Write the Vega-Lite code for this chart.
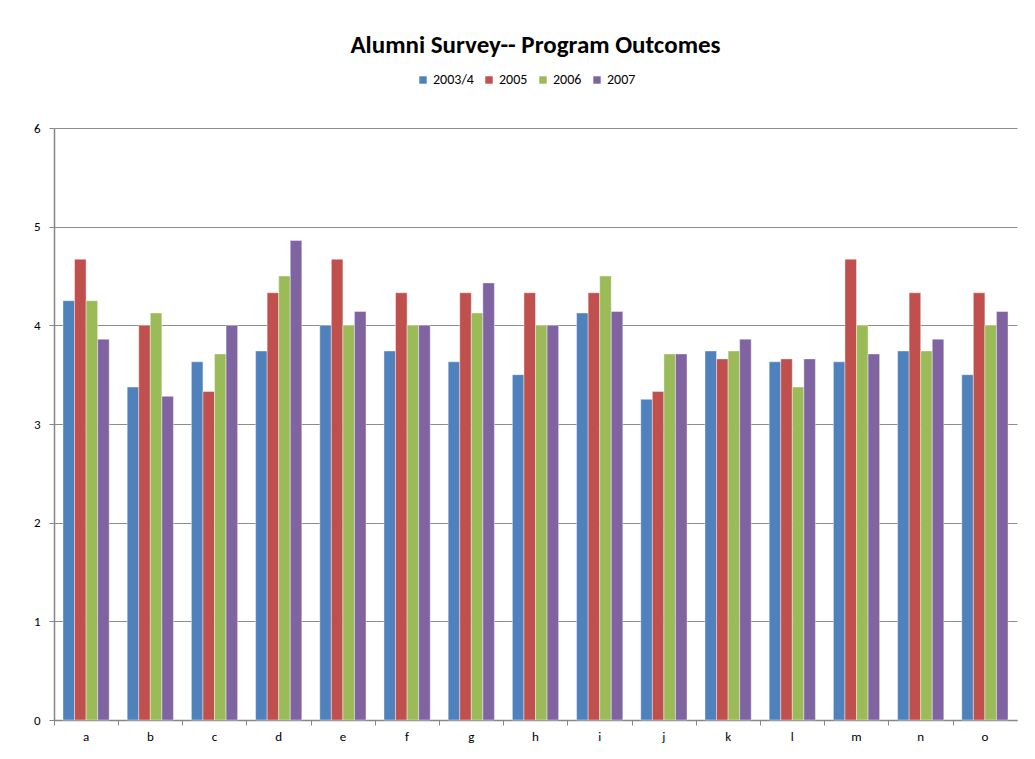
{
  "$schema": "https://vega.github.io/schema/vega-lite/v6.json",
  "autosize": "none",
  "width": 963,
  "height": 592,
  "padding": {"left": 54, "top": 128, "right": 18, "bottom": 39},
  "background": "white",
  "title": {
    "text": "Alumni Survey-- Program Outcomes",
    "font": "Carlito, Liberation Sans Narrow, Liberation Sans",
    "fontSize": 25,
    "fontWeight": "bold",
    "color": "#000000",
    "anchor": "middle",
    "frame": "group",
    "offset": 15
  },
  "config": {
    "view": {"stroke": null},
    "font": "Carlito, Liberation Sans Narrow, Liberation Sans",
    "axis": {"labelFont": "Carlito, Liberation Sans Narrow, Liberation Sans", "labelFontSize": 13, "labelColor": "#000000", "domainColor": "#868686", "tickColor": "#868686", "gridColor": "#8c8c8c", "title": null}
  },
  "data": {
    "values": [
      {"cat": "a", "year": "2003/4", "v": 4.25}, {"cat": "a", "year": "2005", "v": 4.67}, {"cat": "a", "year": "2006", "v": 4.25}, {"cat": "a", "year": "2007", "v": 3.86},
      {"cat": "b", "year": "2003/4", "v": 3.375}, {"cat": "b", "year": "2005", "v": 4.0}, {"cat": "b", "year": "2006", "v": 4.125}, {"cat": "b", "year": "2007", "v": 3.28},
      {"cat": "c", "year": "2003/4", "v": 3.63}, {"cat": "c", "year": "2005", "v": 3.33}, {"cat": "c", "year": "2006", "v": 3.71}, {"cat": "c", "year": "2007", "v": 4.0},
      {"cat": "d", "year": "2003/4", "v": 3.74}, {"cat": "d", "year": "2005", "v": 4.33}, {"cat": "d", "year": "2006", "v": 4.5}, {"cat": "d", "year": "2007", "v": 4.86},
      {"cat": "e", "year": "2003/4", "v": 4.0}, {"cat": "e", "year": "2005", "v": 4.67}, {"cat": "e", "year": "2006", "v": 4.0}, {"cat": "e", "year": "2007", "v": 4.14},
      {"cat": "f", "year": "2003/4", "v": 3.74}, {"cat": "f", "year": "2005", "v": 4.33}, {"cat": "f", "year": "2006", "v": 4.0}, {"cat": "f", "year": "2007", "v": 4.0},
      {"cat": "g", "year": "2003/4", "v": 3.63}, {"cat": "g", "year": "2005", "v": 4.33}, {"cat": "g", "year": "2006", "v": 4.125}, {"cat": "g", "year": "2007", "v": 4.43},
      {"cat": "h", "year": "2003/4", "v": 3.5}, {"cat": "h", "year": "2005", "v": 4.33}, {"cat": "h", "year": "2006", "v": 4.0}, {"cat": "h", "year": "2007", "v": 4.0},
      {"cat": "i", "year": "2003/4", "v": 4.125}, {"cat": "i", "year": "2005", "v": 4.33}, {"cat": "i", "year": "2006", "v": 4.5}, {"cat": "i", "year": "2007", "v": 4.14},
      {"cat": "j", "year": "2003/4", "v": 3.25}, {"cat": "j", "year": "2005", "v": 3.33}, {"cat": "j", "year": "2006", "v": 3.71}, {"cat": "j", "year": "2007", "v": 3.71},
      {"cat": "k", "year": "2003/4", "v": 3.74}, {"cat": "k", "year": "2005", "v": 3.66}, {"cat": "k", "year": "2006", "v": 3.74}, {"cat": "k", "year": "2007", "v": 3.86},
      {"cat": "l", "year": "2003/4", "v": 3.63}, {"cat": "l", "year": "2005", "v": 3.66}, {"cat": "l", "year": "2006", "v": 3.375}, {"cat": "l", "year": "2007", "v": 3.66},
      {"cat": "m", "year": "2003/4", "v": 3.63}, {"cat": "m", "year": "2005", "v": 4.67}, {"cat": "m", "year": "2006", "v": 4.0}, {"cat": "m", "year": "2007", "v": 3.71},
      {"cat": "n", "year": "2003/4", "v": 3.74}, {"cat": "n", "year": "2005", "v": 4.33}, {"cat": "n", "year": "2006", "v": 3.74}, {"cat": "n", "year": "2007", "v": 3.86},
      {"cat": "o", "year": "2003/4", "v": 3.5}, {"cat": "o", "year": "2005", "v": 4.33}, {"cat": "o", "year": "2006", "v": 4.0}, {"cat": "o", "year": "2007", "v": 4.14}
    ]
  },
  "mark": {"type": "bar", "stroke": "white", "strokeOpacity": 0.5, "strokeWidth": 0.8},
  "encoding": {
    "x": {
      "field": "cat", "type": "nominal",
      "scale": {"paddingInner": 0.28, "paddingOuter": 0.14},
      "axis": {"labelAngle": 0, "labelPadding": 5, "tickSize": 5, "bandPosition": -0.19, "domainWidth": 1.5}
    },
    "xOffset": {"field": "year", "type": "nominal", "sort": ["2003/4", "2005", "2006", "2007"]},
    "y": {
      "field": "v", "type": "quantitative",
      "scale": {"domain": [0, 6], "nice": false},
      "axis": {"values": [0, 1, 2, 3, 4, 5, 6], "tickSize": 5, "labelPadding": 9, "grid": true, "domainWidth": 1.5}
    },
    "color": {
      "field": "year", "type": "nominal",
      "sort": ["2003/4", "2005", "2006", "2007"],
      "scale": {"domain": ["2003/4", "2005", "2006", "2007"], "range": ["#4F81BD", "#C0504D", "#9BBB59", "#8064A2"]},
      "legend": {
        "title": null, "orient": "none", "direction": "horizontal",
        "legendX": 362, "legendY": -55,
        "symbolType": "square", "symbolSize": 55, "symbolStrokeWidth": 0,
        "labelFontSize": 14, "labelColor": "#000000", "columnPadding": 8, "labelOffset": 3
      }
    }
  }
}
